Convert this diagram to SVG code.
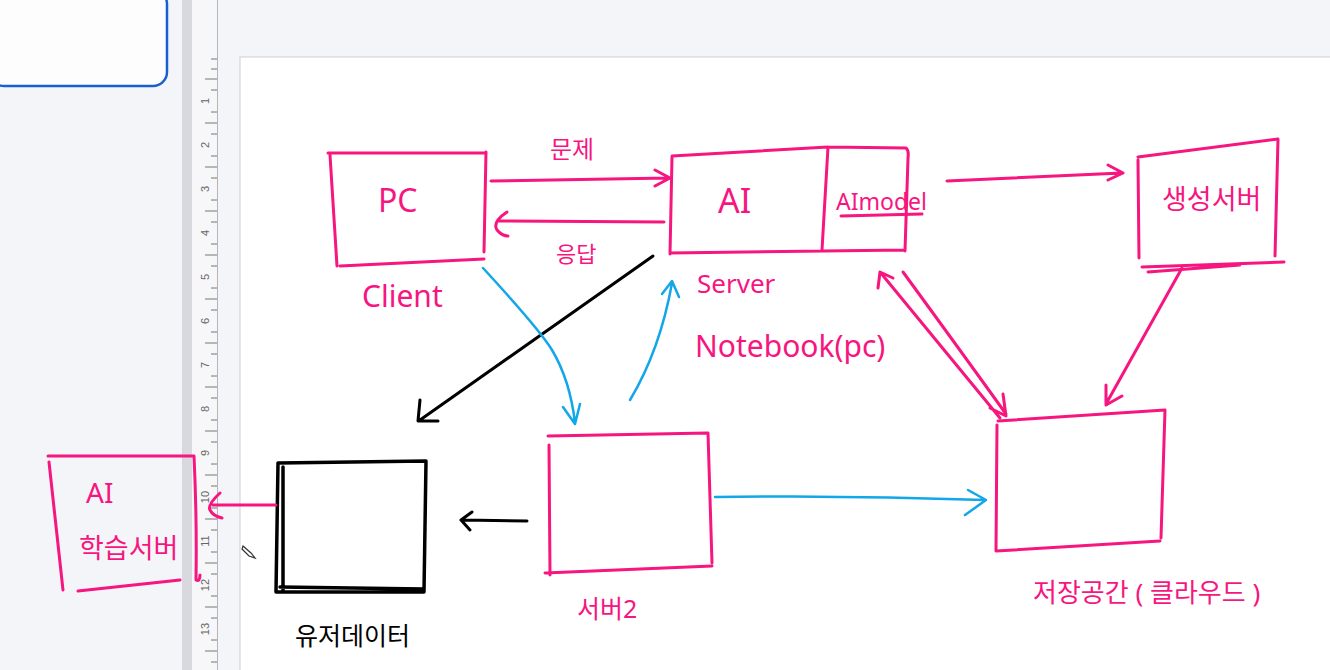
<svg xmlns="http://www.w3.org/2000/svg" width="1330" height="670" viewBox="0 0 1330 670">
<style>
.pk{fill:none;stroke:#f7157f;stroke-width:3;stroke-linecap:round;stroke-linejoin:round}
.bl{fill:none;stroke:#12a7e8;stroke-width:2.5;stroke-linecap:round;stroke-linejoin:round}
.bk{fill:none;stroke:#000;stroke-width:3.5;stroke-linecap:round;stroke-linejoin:round}
.t{fill:#f7157f;font-family:"Noto Sans","Noto Sans CJK KR",sans-serif}
.tb{fill:#000;font-family:"Noto Sans","Noto Sans CJK KR",sans-serif}
.rn{fill:#666;font-family:"Liberation Sans",sans-serif;font-size:11px}
.tick{stroke:#777;stroke-width:1}
</style>
<g id="background">
<rect x="0" y="0" width="1330" height="670" fill="#f4f5f8"/>
<rect x="-10" y="-10" width="177" height="96" rx="14" fill="#fdfdfe" stroke="#1a5fd0" stroke-width="2.5"/>
<rect x="182" y="0" width="10" height="670" fill="#d8d8de"/>
<rect x="192" y="0" width="26" height="670" fill="#f7f7f9"/>
<line x1="217.5" y1="0" x2="217.5" y2="670" stroke="#b5b5b8" stroke-width="1"/>
<rect x="240" y="57" width="1100" height="620" fill="#ffffff" stroke="#cfcfd3" stroke-width="1"/>
</g>
<g id="ruler">
<g class="tick">
<line x1="211" y1="59" x2="217" y2="59"/><line x1="211" y1="69" x2="217" y2="69"/><line x1="205" y1="79" x2="217" y2="79"/><line x1="211" y1="90" x2="217" y2="90"/>
<line x1="211" y1="112" x2="217" y2="112"/><line x1="205" y1="123" x2="217" y2="123"/><line x1="211" y1="134" x2="217" y2="134"/>
<line x1="211" y1="156" x2="217" y2="156"/><line x1="205" y1="167" x2="217" y2="167"/><line x1="211" y1="178" x2="217" y2="178"/>
<line x1="211" y1="200" x2="217" y2="200"/><line x1="205" y1="211" x2="217" y2="211"/><line x1="211" y1="222" x2="217" y2="222"/>
<line x1="211" y1="244" x2="217" y2="244"/><line x1="205" y1="255" x2="217" y2="255"/><line x1="211" y1="266" x2="217" y2="266"/>
<line x1="211" y1="288" x2="217" y2="288"/><line x1="205" y1="299" x2="217" y2="299"/><line x1="211" y1="310" x2="217" y2="310"/>
<line x1="211" y1="332" x2="217" y2="332"/><line x1="205" y1="343" x2="217" y2="343"/><line x1="211" y1="354" x2="217" y2="354"/>
<line x1="211" y1="376" x2="217" y2="376"/><line x1="205" y1="387" x2="217" y2="387"/><line x1="211" y1="398" x2="217" y2="398"/>
<line x1="211" y1="420" x2="217" y2="420"/><line x1="205" y1="431" x2="217" y2="431"/><line x1="211" y1="442" x2="217" y2="442"/>
<line x1="211" y1="464" x2="217" y2="464"/><line x1="205" y1="475" x2="217" y2="475"/><line x1="211" y1="486" x2="217" y2="486"/>
<line x1="211" y1="508" x2="217" y2="508"/><line x1="205" y1="519" x2="217" y2="519"/><line x1="211" y1="530" x2="217" y2="530"/>
<line x1="211" y1="552" x2="217" y2="552"/><line x1="205" y1="563" x2="217" y2="563"/><line x1="211" y1="574" x2="217" y2="574"/>
<line x1="211" y1="596" x2="217" y2="596"/><line x1="205" y1="607" x2="217" y2="607"/><line x1="211" y1="618" x2="217" y2="618"/>
<line x1="211" y1="640" x2="217" y2="640"/><line x1="205" y1="651" x2="217" y2="651"/><line x1="211" y1="662" x2="217" y2="662"/>
</g>
<g class="rn" text-anchor="middle">
<text transform="translate(209,101) rotate(-90)">1</text>
<text transform="translate(209,145) rotate(-90)">2</text>
<text transform="translate(209,189) rotate(-90)">3</text>
<text transform="translate(209,233) rotate(-90)">4</text>
<text transform="translate(209,277) rotate(-90)">5</text>
<text transform="translate(209,321) rotate(-90)">6</text>
<text transform="translate(209,365) rotate(-90)">7</text>
<text transform="translate(209,409) rotate(-90)">8</text>
<text transform="translate(209,453) rotate(-90)">9</text>
<text transform="translate(209,497) rotate(-90)">10</text>
<text transform="translate(209,541) rotate(-90)">11</text>
<text transform="translate(209,585) rotate(-90)">12</text>
<text transform="translate(209,629) rotate(-90)">13</text>
</g>
</g>
<g id="pc">
<path class="pk" d="M328,153 L486,153 M330,155 L337,266 M340,266 L484,259 M486,152 L484,252"/>
<text class="t" x="378" y="212" font-size="32">PC</text>
<text class="t" x="362" y="307" font-size="30">Client</text>
</g>
<g id="ai-server">
<path class="pk" d="M672,157 L670,254 M672,156 L828,147 L906,148 Q909,150 908,158 L905,251 M670,253 L905,250 M828,147 L822,250"/>
<text class="t" x="718" y="213" font-size="34">AI</text>
<text class="t" x="836" y="210" font-size="23">AImodel</text>
<path class="pk" d="M841,216 L922,214"/>
<text class="t" x="697" y="293" font-size="26">Server</text>
<text class="t" x="695" y="357" font-size="30">Notebook(pc)</text>
</g>
<g id="gen-server">
<path class="pk" d="M1138,157 L1278,139 L1275,256 M1138,160 L1139,258 M1142,267 L1284,262 M1148,272 L1240,265"/>
<text class="t" x="1162" y="209" font-size="27">생성서버</text>
</g>
<g id="storage">
<path class="pk" d="M998,421 L1165,410 L1161,538 M997,425 L996,551 L1160,541"/>
<text class="t" x="1033" y="602" font-size="26">저장공간 ( 클라우드 )</text>
</g>
<g id="server2">
<path class="pk" d="M548,436 L708,433 L712,563 M549,445 L550,575 M545,573 L712,566"/>
<text class="t" x="577" y="618" font-size="25">서버2</text>
</g>
<g id="user-data">
<path class="bk" d="M278,463 L426,461 L424,592 L276,592 Z M283,467 L283,590 M280,587 L424,589"/>
<text class="tb" x="295" y="645" font-size="25">유저데이터</text>
</g>
<g id="ai-train-server">
<path class="pk" d="M48,456 L194,456 Q197,520 196,580 Q200,582 200,575 M49,462 L63,590 M78,591 L180,580"/>
<text class="t" x="86" y="503" font-size="28">AI</text>
<text class="t" x="79" y="558" font-size="27">학습서버</text>
</g>
<g id="cursor">
<path d="M243,546 L251,553 L255,558 L249,556 L242,549 Z" fill="#fff" stroke="#333" stroke-width="1.2"/>
</g>
<g id="connectors">
<path class="pk" d="M491,181 L668,178 M655,170 L670,178 L655,186"/>
<path class="pk" d="M664,222 L498,221 M507,212 Q492,222 497,230 Q502,236 508,236"/>
<text class="t" x="550" y="158" font-size="24">문제</text>
<text class="t" x="556" y="262" font-size="22">응답</text>
<path class="pk" d="M947,181 L1122,173 M1108,165 L1123,173 L1108,180"/>
<path class="pk" d="M880,272 L1000,418 M878,288 L880,272 L893,278 M903,272 Q960,350 1006,414 M1003,394 L1006,416 L990,408"/>
<path class="pk" d="M1182,268 L1106,404 M1106,385 L1106,405 L1122,396"/>
<path class="bk" d="M653,256 L420,420 M420,400 L418,421 L438,421" style="stroke-width:3"/>
<path class="bl" d="M483,268 Q540,330 552,350 Q570,380 575,423 M563,407 L575,424 L580,404"/>
<path class="bl" d="M630,400 Q660,350 672,283 M662,294 L672,281 L679,297"/>
<path class="bl" d="M715,497 Q850,495 985,500 M968,490 L986,500 L965,515"/>
<path class="bk" d="M527,521 L463,520 M472,512 L461,520 L470,530" style="stroke-width:3"/>
<path class="pk" d="M276,505 L213,505 M220,493 Q207,505 210,510 Q213,516 222,518"/>
</g>
</svg>
